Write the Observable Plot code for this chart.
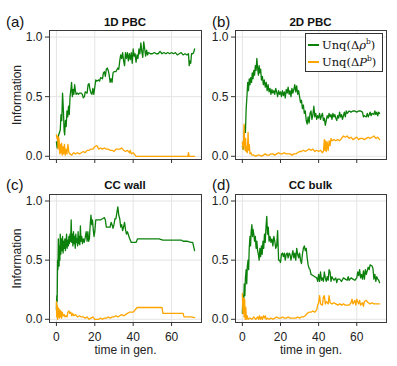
<!DOCTYPE html>
<html><head><meta charset="utf-8">
<script src="https://cdn.jsdelivr.net/npm/d3@7"></script>
<script src="https://cdn.jsdelivr.net/npm/@observablehq/plot@0.6"></script>
<style>
body{margin:0;background:#fff;}
#wrap{position:relative;width:397px;height:366px;overflow:hidden;font-family:"Liberation Sans",Arial,sans-serif;color:#111;}
.panel{position:absolute;}
.plab{position:absolute;font-size:15px;line-height:15px;}
.ptitle{position:absolute;font-size:11.5px;font-weight:bold;line-height:12px;transform:translateX(-50%);white-space:nowrap;}
.legend{position:absolute;left:305px;top:33px;width:76px;height:37px;background:#fff;border:1px solid #333;font-family:"DejaVu Serif",serif;font-size:11.5px;}
.legend .row{position:absolute;left:2px;height:14px;display:flex;align-items:center;white-space:nowrap;}
.legend .sw{width:11px;height:1.5px;margin-right:3px;}
.legend sup{font-size:7.5px;vertical-align:5px;line-height:0;}
</style></head><body><div id="wrap"></div>
<script>
// ---------- data ----------
const panelTitles = ["1D PBC", "2D PBC", "CC wall", "CC bulk"];
const panelLetters = ["(a)", "(b)", "(c)", "(d)"];
const xTicks = [0, 20, 40, 60];
const yTicks = [0, 0.5, 1.0];
const seriesNames = ["Unq(\u0394\u03c1", "Unq(\u0394P"];

const aGreenT = [0,0.4,0.8,1.2,1.6,2.0,2.4,2.8,3.2,3.6,4.0,4.3,4.7,5.1,5.5,5.9,6.3,6.7,7.1,7.5,7.9,8.3,8.7,9.1,9.5,9.9,10.3,10.8,11.5,12,13,13.5,14,14.6,15,16,16.5,17,17.5,18,18.5,19,19.5,20,20.5,21,22,22.5,23,24,24.5,25,25.5,26,26.5,27,27.5,28,28.5,29,29.5,30,31,32,32.5,33,33.5,34,34.5,35,35.5,36,36.5,37,37.5,38,38.5,39,39.5,40,40.5,41,41.5,42,42.5,43,43.5,44,44.5,45,45.5,46,46.5,47,47.5,48,49,50,51,52,53,54,55,56,57,58,59,60,61,62,63,64,65,66,67,68,68.8,69.2,69.6,70,70.4,71,71.5,72];
const aGreenV = [0.12,0.07,0.15,0.18,0.2,0.22,0.35,0.3,0.53,0.4,0.22,0.18,0.3,0.25,0.38,0.33,0.42,0.35,0.5,0.55,0.62,0.5,0.56,0.52,0.6,0.55,0.52,0.53,0.52,0.53,0.53,0.52,0.49,0.5,0.54,0.53,0.6,0.61,0.56,0.53,0.52,0.57,0.52,0.58,0.64,0.63,0.64,0.63,0.66,0.65,0.7,0.71,0.67,0.73,0.74,0.72,0.68,0.62,0.65,0.62,0.7,0.71,0.71,0.74,0.73,0.8,0.85,0.82,0.87,0.8,0.76,0.87,0.82,0.87,0.8,0.86,0.81,0.87,0.78,0.9,0.84,0.86,0.79,0.85,0.82,0.9,0.86,0.95,0.88,0.83,0.96,0.9,0.84,0.89,0.85,0.87,0.86,0.86,0.87,0.86,0.86,0.88,0.86,0.87,0.86,0.87,0.86,0.87,0.86,0.87,0.85,0.86,0.87,0.85,0.86,0.85,0.86,0.76,0.8,0.78,0.86,0.86,0.87,0.9];
const aOrangeT = [0,0.3,0.6,0.9,1.2,1.5,1.8,2.1,2.4,2.7,3.0,3.4,3.8,4.2,4.6,5.0,5.5,6.0,6.5,7,8,9,10,11,12,13,14,15,16,17,18,19,20,21,21.5,22,23,24,25,26,27,28,29,30,31,32,33,34,35,36,37,38,38.5,39,40,41,41.5,50,60,68.5,68.8,69.2,72];
const aOrangeV = [0.18,0.15,0.17,0.06,0.16,0.12,0.02,0.1,0.03,0.11,0.01,0.08,0.02,0.1,0.01,0.06,0.02,0.1,0.03,0.02,0.01,0.03,0.02,0.03,0.02,0.03,0.04,0.03,0.05,0.05,0.06,0.06,0.08,0.09,0.08,0.06,0.07,0.06,0.07,0.06,0.06,0.05,0.05,0.04,0.06,0.06,0.06,0.07,0.05,0.04,0.05,0.03,0.05,0.02,0.03,0.01,0,0,0,0,0.03,0,0];

const bGreenT = [0,0.4,0.8,1.2,1.6,2.0,2.4,2.8,3.2,3.6,4.0,4.4,4.8,5.2,5.6,6.0,6.4,6.8,7.2,7.6,8.0,8.4,8.8,9.2,9.6,10,10.5,11,11.5,12,12.5,13,13.5,14,14.5,15,15.5,16,16.5,17,17.5,18,18.5,19,19.5,20,20.5,21,21.5,22,22.5,23,23.5,24,24.5,25,25.5,26,26.5,27,27.5,28,28.5,29,29.5,30,30.5,31,31.5,32,32.5,33,33.5,34,34.5,35,35.5,36,36.5,37,37.5,38,38.5,39,39.5,40,40.5,41,41.5,42,42.5,43,43.5,44,44.5,45,45.5,46,46.5,47,47.5,48,48.5,49,49.5,50,50.5,51,51.5,52,52.5,53,53.5,54,54.5,55,56,57,58,59,60,61,62,63,63.5,64,65,65.5,66,67,67.5,68,69,69.5,70,70.5,71,71.5,72];
const bGreenV = [0.08,0.06,0.1,0.25,0.2,0.4,0.5,0.62,0.55,0.65,0.6,0.66,0.62,0.7,0.65,0.72,0.68,0.76,0.72,0.82,0.74,0.68,0.76,0.7,0.73,0.64,0.67,0.6,0.64,0.58,0.62,0.55,0.6,0.54,0.57,0.52,0.56,0.53,0.55,0.52,0.57,0.54,0.5,0.55,0.52,0.54,0.5,0.55,0.51,0.54,0.49,0.56,0.53,0.58,0.52,0.55,0.5,0.57,0.53,0.56,0.6,0.54,0.59,0.52,0.55,0.5,0.45,0.47,0.4,0.43,0.36,0.38,0.3,0.27,0.33,0.28,0.36,0.38,0.31,0.35,0.42,0.33,0.36,0.31,0.34,0.32,0.36,0.31,0.34,0.36,0.3,0.32,0.26,0.3,0.34,0.32,0.36,0.33,0.35,0.31,0.36,0.33,0.35,0.32,0.3,0.34,0.32,0.37,0.33,0.35,0.31,0.34,0.37,0.33,0.38,0.36,0.38,0.37,0.38,0.38,0.37,0.38,0.38,0.37,0.33,0.34,0.33,0.36,0.33,0.37,0.34,0.36,0.35,0.38,0.35,0.37,0.34,0.37,0.36];
const bOrangeT = [0,0.3,0.6,0.9,1.1,1.4,1.7,2.0,2.3,2.6,3.0,3.3,3.6,4.0,4.5,5,6,7,8,9,10,11,12,13,14,15,16,17,18,19,20,21,22,23,24,25,26,27,28,29,30,31,32,33,34,35,36,37,38,39,40,41,42,42.5,43,43.3,43.7,44,44.5,45,45.5,46,46.5,47,48,49,50,51,52,53,54,55,56,57,58,59,60,61,62,63,64,65,66,67,68,69,70,71,72];
const bOrangeV = [0.12,0.06,0.1,0.27,0.12,0.05,0.15,0.04,0.08,0.03,0.2,0.05,0.1,0.02,0.03,0.01,0.01,0,0.01,0.01,0,0.01,0.02,0.01,0.01,0.02,0.02,0.01,0.02,0.03,0.02,0.02,0.03,0.02,0.02,0.02,0.01,0.02,0.02,0.03,0.04,0.04,0.05,0.04,0.05,0.06,0.05,0.06,0.04,0.05,0.04,0.05,0.03,0.04,0.14,0.05,0.13,0.04,0.12,0.05,0.13,0.09,0.15,0.13,0.14,0.13,0.14,0.13,0.15,0.17,0.16,0.17,0.15,0.16,0.14,0.15,0.16,0.14,0.15,0.15,0.14,0.15,0.16,0.15,0.16,0.17,0.15,0.16,0.14];

const cGreenT = [0,0.2,0.4,0.6,0.8,1.0,1.2,1.4,1.6,1.8,2.0,2.3,2.6,2.9,3.2,3.5,3.8,4.1,4.4,4.7,5.0,5.3,5.6,5.9,6.2,6.5,6.8,7.1,7.4,7.7,8.0,8.3,8.6,8.9,9.2,9.5,9.8,10.1,10.4,10.7,11.0,11.3,11.6,11.9,12.2,12.5,12.8,13.2,13.6,14,14.5,15,15.5,16,16.4,16.8,17.2,17.6,18,18.4,18.8,19.2,19.6,20,20.5,21,22,23,24,25,25.5,26,27,28,28.5,29,29.5,30,30.5,31,31.5,32,32.5,33,33.5,34,34.5,35,35.5,36,36.5,37,38,39,40,41.5,42.3,45,50,53.5,55.5,60,65,66,68,70,71,72];
const cGreenV = [0.08,0.2,0.15,0.5,0.42,0.68,0.55,0.45,0.62,0.5,0.72,0.55,0.68,0.58,0.7,0.56,0.66,0.6,0.68,0.58,0.65,0.72,0.6,0.67,0.62,0.7,0.64,0.72,0.66,0.84,0.65,0.72,0.62,0.74,0.64,0.7,0.6,0.72,0.65,0.68,0.62,0.74,0.64,0.7,0.63,0.79,0.66,0.7,0.64,0.68,0.65,0.69,0.74,0.66,0.74,0.66,0.68,0.8,0.88,0.8,0.84,0.76,0.7,0.74,0.84,0.84,0.84,0.84,0.85,0.86,0.84,0.78,0.78,0.78,0.82,0.8,0.77,0.8,0.85,0.85,0.9,0.95,0.88,0.85,0.78,0.8,0.75,0.78,0.82,0.76,0.72,0.74,0.69,0.65,0.65,0.65,0.68,0.68,0.68,0.68,0.67,0.67,0.67,0.66,0.66,0.65,0.65,0.58];
const cOrangeT = [0,0.2,0.4,0.6,0.8,1.0,1.2,1.5,1.8,2.1,2.4,2.7,3.0,3.5,4,4.5,5,5.5,6,6.5,7,7.5,8,8.5,9,10,11,12,13,14,15,16,17,18,19,20,21,22,23,24,25,26,27,28,29,30,31,32,33,34,35,36,37,38,39,40,41,42,45,50,55,55.5,60,66,66.5,70,72];
const cOrangeV = [0.15,0.02,0.12,0,0.1,0.02,0.09,0.01,0.08,0.02,0.07,0.01,0.06,0.03,0.04,0.02,0.03,0.02,0.06,0.07,0.05,0.06,0.03,0.05,0.03,0.04,0.02,0.03,0.02,0.02,0.01,0.02,0,0.01,0.02,0,0,0,0.01,0,0.01,0.01,0.02,0.01,0.02,0.02,0.03,0.02,0.03,0.04,0.03,0.04,0.05,0.06,0.06,0.06,0.08,0.1,0.1,0.1,0.1,0.05,0.05,0.05,0.02,0.02,0.015];

const dGreenT = [0,0.3,0.6,1.0,1.3,1.6,2.0,2.3,2.6,3.0,3.3,3.6,4.0,4.3,4.6,5.0,5.3,5.6,6.0,6.4,6.8,7.2,7.6,8.0,8.4,8.8,9.2,9.6,10.0,10.4,10.8,11.2,11.6,12.0,12.4,12.8,13.2,13.6,14.0,14.5,15,15.5,16,16.5,17,17.5,18,18.5,19,19.5,20,20.5,21,21.5,22,22.5,23,23.5,24,24.5,25,25.5,26,26.5,27,27.5,28,28.5,29,29.5,30,30.5,31,31.5,32,32.5,33,33.5,34,34.5,35,35.5,36,37,38,39,39.5,40,40.5,41,41.5,42,42.5,43,43.5,44,44.5,45,45.5,46,46.5,47,48,49,49.5,50,51,52,53,54,55,55.5,56,57,58,59,60,60.5,61,61.5,62,62.5,63,63.5,64,64.5,65,66,66.5,67,68,68.5,69,69.5,70,70.5,71,71.5,72];
const dGreenV = [0.05,0.2,0.1,0.3,0.2,0.35,0.42,0.3,0.45,0.5,0.42,0.6,0.7,0.62,0.74,0.8,0.7,0.76,0.72,0.66,0.7,0.6,0.66,0.58,0.55,0.5,0.6,0.53,0.62,0.55,0.66,0.6,0.72,0.65,0.78,0.87,0.72,0.78,0.66,0.7,0.65,0.68,0.62,0.7,0.66,0.6,0.62,0.75,0.5,0.5,0.48,0.55,0.56,0.53,0.56,0.5,0.55,0.56,0.52,0.56,0.55,0.5,0.54,0.58,0.52,0.56,0.5,0.6,0.55,0.52,0.56,0.5,0.47,0.55,0.6,0.62,0.58,0.6,0.52,0.46,0.43,0.42,0.38,0.37,0.36,0.35,0.32,0.38,0.32,0.4,0.33,0.35,0.32,0.4,0.35,0.32,0.36,0.33,0.42,0.4,0.32,0.36,0.33,0.35,0.31,0.34,0.34,0.32,0.35,0.34,0.33,0.36,0.33,0.35,0.34,0.33,0.35,0.4,0.37,0.42,0.35,0.38,0.34,0.41,0.34,0.42,0.38,0.44,0.42,0.46,0.45,0.43,0.34,0.38,0.32,0.36,0.34,0.33,0.31];
const dOrangeT = [0,0.3,0.6,0.9,1.2,1.5,1.8,2.1,2.5,3,4,5,6,7,8,8.5,9,9.5,10,10.5,11,11.5,12,12.5,13,14,15,16,17,18,19,20,21,22,23,24,25,26,27,28,29,30,31,32,33,34,35,36,37,38,39,39.5,40,40.5,41,42,42.5,43,43.5,44,45,45.5,46,47,48,49,50,51,52,53,54,55,56,57,57.5,58,59,59.5,60,61,61.5,62,63,63.5,64,65,66,67,68,69,70,71,72];
const dOrangeV = [0.22,0.05,0.18,0.02,0.17,0,0.1,0,0.03,0,0.01,0,0.02,0,0.02,0,0.03,0,0.02,0,0.03,0.01,0.03,0,0.01,0,0.01,0,0.01,0.02,0.01,0.01,0.02,0.01,0.01,0.02,0.01,0.01,0.01,0.01,0.02,0.01,0.02,0.02,0.03,0.05,0.06,0.06,0.07,0.06,0.08,0.12,0.14,0.2,0.13,0.12,0.19,0.2,0.13,0.15,0.13,0.2,0.14,0.13,0.14,0.13,0.12,0.13,0.12,0.13,0.12,0.12,0.12,0.14,0.17,0.13,0.16,0.12,0.17,0.13,0.16,0.12,0.14,0.11,0.15,0.16,0.14,0.13,0.14,0.13,0.13,0.13,0.13];

const seriesT = [[aGreenT, aOrangeT], [bGreenT, bOrangeT], [cGreenT, cOrangeT], [dGreenT, dOrangeT]];
const seriesV = [[aGreenV, aOrangeV], [bGreenV, bOrangeV], [cGreenV, cOrangeV], [dGreenV, dOrangeV]];
const colors = ["#0b800b", "#ffa500"];

// ---------- layout ----------
const layout = [
  {left: 0,   top: 0,   w: 205, h: 180, mL: 49, mR: 4,  mT: 30, mB: 21, ylab: true,  xlab: false, lx: 6,   ly: 14,  tx: 125,   ty: 16},
  {left: 195, top: 0,   w: 202, h: 180, mL: 40, mR: 11, mT: 30, mB: 21, ylab: false, xlab: false, lx: 212, ly: 14,  tx: 310.5, ty: 16},
  {left: 0,   top: 175, w: 205, h: 191, mL: 49, mR: 4,  mT: 19, mB: 44, ylab: true,  xlab: true,  lx: 6,   ly: 177, tx: 125,   ty: 179},
  {left: 195, top: 175, w: 202, h: 191, mL: 40, mR: 11, mT: 19, mB: 44, ylab: false, xlab: true,  lx: 212, ly: 177, tx: 310.5, ty: 179}
];

const wrap = document.getElementById("wrap");
layout.forEach((L, k) => {
  const marks = [
    Plot.gridX(xTicks, {stroke: "#e4e4e4", strokeOpacity: 1}),
    Plot.gridY(yTicks, {stroke: "#e4e4e4", strokeOpacity: 1}),
  ];
  [0, 1].forEach(s => {
    const T = seriesT[k][s], V = seriesV[k][s];
    marks.push(Plot.line(T, {x: T, y: V, stroke: colors[s], strokeWidth: 1.3}));
  });
  marks.push(Plot.frame({stroke: "#3a3a3a", strokeWidth: 1}));
  marks.push(Plot.axisX(xTicks, {tickSize: 4, tickPadding: 6, stroke: "#333",
    tickFormat: L.xlab ? (d => String(d)) : (() => ""),
    label: L.xlab ? "time in gen." : null, labelAnchor: "center", labelArrow: "none", labelOffset: 31, fontSize: 12}));
  marks.push(Plot.axisY(yTicks, {tickSize: 4, tickPadding: 3, stroke: "#333",
    tickFormat: d3.format(".1f"),
    label: L.ylab ? "Information" : null, labelAnchor: "center", labelArrow: "none", labelOffset: 37, fontSize: 12}));
  const svg = Plot.plot({
    width: L.w, height: L.h,
    marginLeft: L.mL, marginRight: L.mR, marginTop: L.mT, marginBottom: L.mB,
    x: {domain: [-3.6, 75.6]},
    y: {domain: [-0.027, 1.055]},
    style: {fontFamily: "'Liberation Sans', Arial, sans-serif", fontSize: "12px", color: "#222", background: "transparent"},
    marks
  });
  const div = document.createElement("div");
  div.className = "panel";
  div.style.left = L.left + "px";
  div.style.top = L.top + "px";
  div.appendChild(svg);
  wrap.appendChild(div);

  const lab = document.createElement("div");
  lab.className = "plab";
  lab.style.left = L.lx + "px"; lab.style.top = L.ly + "px";
  lab.textContent = panelLetters[k];
  wrap.appendChild(lab);

  const tt = document.createElement("div");
  tt.className = "ptitle";
  tt.style.left = L.tx + "px"; tt.style.top = L.ty + "px";
  tt.textContent = panelTitles[k];
  wrap.appendChild(tt);
});

// legend (panel b)
const leg = document.createElement("div");
leg.className = "legend";
[0, 1].forEach(s => {
  const row = document.createElement("div");
  row.className = "row";
  row.style.top = (s === 0 ? 4 : 21) + "px";
  const sw = document.createElement("span");
  sw.className = "sw"; sw.style.background = colors[s];
  row.appendChild(sw);
  const txt = document.createElement("span");
  const name = seriesNames[s];
  const idx = name.length - 1;
  txt.innerHTML = name.slice(0, idx) + '<i>' + name.slice(idx) + '</i><sup>b</sup>)';
  row.appendChild(txt);
  leg.appendChild(row);
});
wrap.appendChild(leg);
</script>
</body></html>
